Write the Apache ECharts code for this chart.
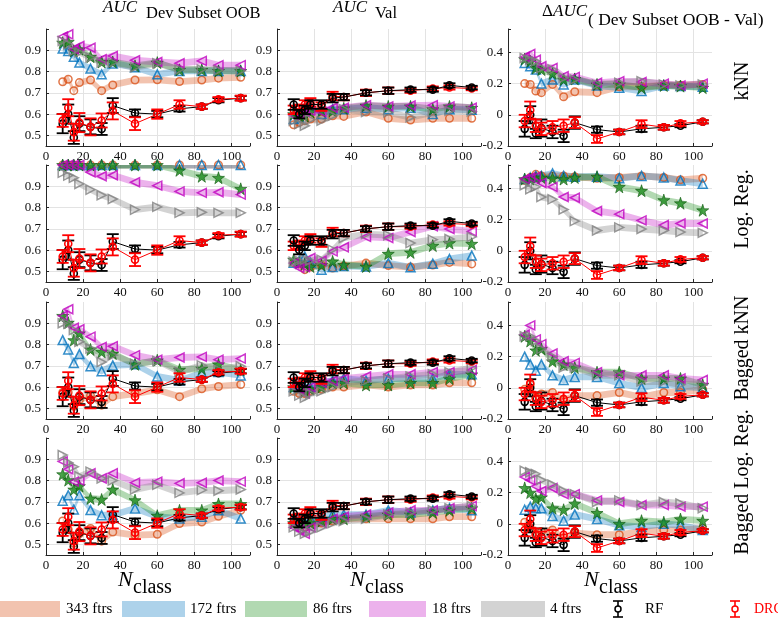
<!DOCTYPE html>
<html><head><meta charset="utf-8">
<script src="https://cdn.jsdelivr.net/npm/echarts@6/dist/echarts.min.js"></script>
<style>html,body{margin:0;padding:0;background:#fff}#c{width:778px;height:619px}</style>
</head><body><div id="c"></div>
<script>
// ---------------- DATA ----------------
const N = [9, 12, 15, 18, 24, 30, 36, 48, 60, 72, 84, 93, 105];
const xTicks = [0, 20, 40, 60, 80, 100];
const featureNames = ['343 ftrs', '172 ftrs', '86 ftrs', '18 ftrs', '4 ftrs'];
const rowNames = ['kNN', 'Log. Reg.', 'Bagged kNN', 'Bagged Log. Reg.'];

// each panel: [343, 172, 86, 18, 4 ftrs]
const knnOOB = [
  [0.752,0.764,0.710,0.748,0.760,0.710,0.737,0.760,0.761,0.753,0.760,0.769,0.773],
  [0.908,0.897,0.870,0.842,0.814,0.787,0.838,0.820,0.787,0.803,0.803,0.803,0.803],
  [0.936,0.940,0.897,0.905,0.870,0.845,0.845,0.827,0.842,0.808,0.808,0.803,0.803],
  [0.964,0.975,0.905,0.920,0.912,0.858,0.873,0.853,0.845,0.839,0.850,0.830,0.830],
  [0.944,0.928,0.897,0.890,0.866,0.842,0.842,0.820,0.839,0.810,0.810,0.806,0.803]];
const knnVal = [
  [0.550,0.561,0.569,0.577,0.577,0.592,0.589,0.610,0.580,0.572,0.580,0.580,0.580],
  [0.577,0.585,0.630,0.640,0.600,0.623,0.623,0.630,0.623,0.630,0.600,0.623,0.620],
  [0.600,0.590,0.590,0.610,0.615,0.615,0.627,0.640,0.636,0.636,0.623,0.636,0.630],
  [0.595,0.600,0.610,0.615,0.610,0.630,0.630,0.642,0.636,0.640,0.642,0.636,0.630],
  [0.569,0.553,0.545,0.574,0.569,0.592,0.623,0.610,0.608,0.585,0.608,0.615,0.612]];
const knnDelta = [
  [0.200,0.195,0.152,0.142,0.195,0.116,0.148,0.142,0.180,0.180,0.190,0.190,0.195],
  [0.332,0.311,0.290,0.200,0.226,0.195,0.226,0.188,0.174,0.152,0.188,0.184,0.180],
  [0.357,0.343,0.300,0.290,0.265,0.226,0.230,0.195,0.195,0.174,0.188,0.184,0.174],
  [0.370,0.390,0.353,0.311,0.300,0.248,0.243,0.205,0.216,0.210,0.200,0.188,0.200],
  [0.364,0.353,0.343,0.300,0.290,0.237,0.226,0.195,0.205,0.216,0.195,0.188,0.195]];
const lrOOB = [
  [1,1,1,1,1,1,1,1,1,1,1,1,1],
  [1,1,1,1,1,1,1,1,1,1,1,1,1],
  [1,1,1,1,1,1,1,1,1,0.975,0.947,0.940,0.888],
  [1,1,1,1,0.966,0.947,0.952,0.919,0.903,0.876,0.869,0.872,0.861],
  [0.963,0.950,0.940,0.911,0.884,0.858,0.840,0.790,0.803,0.775,0.778,0.775,0.775]];
const lrVal = [
  [0.540,0.535,0.508,0.520,0.530,0.516,0.525,0.539,0.527,0.520,0.530,0.542,0.535],
  [0.540,0.550,0.570,0.540,0.508,0.520,0.525,0.523,0.539,0.519,0.536,0.558,0.574],
  [0.555,0.540,0.535,0.523,0.530,0.547,0.531,0.523,0.583,0.589,0.621,0.633,0.630],
  [0.539,0.516,0.520,0.563,0.550,0.594,0.613,0.662,0.657,0.685,0.712,0.699,0.688],
  [0.545,0.550,0.555,0.550,0.555,0.602,0.657,0.675,0.670,0.633,0.649,0.652,0.662]];
const lrDelta = [
  [0.450,0.470,0.490,0.480,0.480,0.480,0.475,0.465,0.470,0.480,0.470,0.455,0.465],
  [0.460,0.470,0.480,0.480,0.496,0.480,0.475,0.475,0.465,0.480,0.470,0.450,0.430],
  [0.460,0.460,0.465,0.470,0.465,0.460,0.470,0.475,0.410,0.385,0.325,0.305,0.260],
  [0.460,0.470,0.475,0.435,0.410,0.345,0.340,0.255,0.235,0.195,0.165,0.175,0.175],
  [0.420,0.395,0.410,0.345,0.330,0.265,0.190,0.130,0.150,0.140,0.130,0.120,0.115]];
const bknnOOB = [
  [0.575,0.575,0.510,0.540,0.560,0.515,0.555,0.570,0.587,0.555,0.592,0.603,0.612],
  [0.821,0.777,0.713,0.755,0.698,0.675,0.702,0.707,0.650,0.631,0.666,0.671,0.655],
  [0.935,0.903,0.821,0.853,0.777,0.766,0.758,0.707,0.726,0.682,0.687,0.707,0.680],
  [0.935,0.966,0.879,0.872,0.837,0.789,0.792,0.750,0.729,0.739,0.742,0.729,0.734],
  [0.900,0.897,0.868,0.813,0.781,0.718,0.750,0.710,0.723,0.671,0.702,0.682,0.698]];
const bknnVal = [
  [0.580,0.570,0.570,0.580,0.590,0.600,0.600,0.610,0.600,0.610,0.610,0.620,0.620],
  [0.600,0.620,0.600,0.600,0.620,0.630,0.640,0.630,0.640,0.640,0.640,0.660,0.660],
  [0.600,0.600,0.580,0.590,0.600,0.620,0.620,0.610,0.610,0.620,0.620,0.640,0.660],
  [0.600,0.590,0.570,0.600,0.620,0.630,0.640,0.650,0.660,0.660,0.670,0.670,0.680],
  [0.580,0.560,0.550,0.570,0.580,0.600,0.620,0.630,0.640,0.650,0.660,0.670,0.690]];
const bknnDelta = [
  [-0.010,0.020,-0.060,-0.040,-0.030,-0.080,-0.050,-0.050,-0.030,-0.060,-0.030,-0.030,-0.010],
  [0.200,0.150,0.110,0.150,0.080,0.050,0.070,0.070,0.030,0.000,0.030,0.010,0.000],
  [0.330,0.300,0.240,0.250,0.170,0.150,0.130,0.100,0.100,0.060,0.060,0.060,0.020],
  [0.340,0.400,0.310,0.280,0.220,0.170,0.160,0.100,0.080,0.080,0.080,0.060,0.050],
  [0.330,0.330,0.300,0.250,0.200,0.130,0.130,0.080,0.080,0.040,0.040,0.020,0.020]];
const blrOOB = [
  [0.610,0.570,0.505,0.550,0.575,0.515,0.558,0.543,0.547,0.598,0.605,0.632,0.660],
  [0.705,0.731,0.664,0.731,0.661,0.637,0.637,0.669,0.630,0.621,0.630,0.660,0.621],
  [0.830,0.802,0.758,0.774,0.716,0.711,0.758,0.708,0.635,0.660,0.660,0.690,0.690],
  [0.890,0.853,0.795,0.800,0.834,0.810,0.834,0.790,0.795,0.787,0.790,0.800,0.795],
  [0.920,0.884,0.865,0.820,0.842,0.810,0.800,0.758,0.780,0.742,0.755,0.752,0.758]];
const blrVal = [
  [0.600,0.600,0.580,0.600,0.600,0.610,0.620,0.620,0.620,0.620,0.620,0.630,0.630],
  [0.620,0.620,0.600,0.620,0.630,0.640,0.640,0.640,0.660,0.650,0.660,0.670,0.660],
  [0.600,0.600,0.600,0.600,0.610,0.620,0.620,0.630,0.640,0.640,0.650,0.660,0.670],
  [0.580,0.570,0.550,0.580,0.600,0.620,0.630,0.640,0.650,0.660,0.660,0.670,0.680],
  [0.580,0.560,0.550,0.560,0.580,0.600,0.610,0.620,0.640,0.650,0.660,0.670,0.680]];
const blrDelta = [
  [0.010,-0.030,-0.070,-0.050,-0.040,-0.090,-0.060,-0.070,-0.070,-0.050,-0.040,-0.040,-0.030],
  [0.090,0.110,0.100,0.100,0.050,0.020,0.060,0.030,-0.010,-0.020,0.000,-0.010,-0.040],
  [0.230,0.200,0.160,0.170,0.100,0.090,0.130,0.070,0.000,0.020,0.010,0.030,0.020],
  [0.300,0.280,0.240,0.210,0.230,0.190,0.190,0.150,0.140,0.120,0.120,0.110,0.110],
  [0.340,0.330,0.320,0.280,0.250,0.210,0.190,0.140,0.150,0.120,0.140,0.130,0.100]];

// RF / DRC baselines (same in every row) with error half-widths
const rfOOB     = [0.555,0.600,0.490,0.555,0.540,0.530,0.640,0.605,0.600,0.625,0.635,0.665,0.675];
const rfOOBErr  = [0.045,0.045,0.030,0.035,0.035,0.028,0.035,0.017,0.015,0.013,0.010,0.010,0.010];
const drcOOB    = [0.570,0.630,0.515,0.560,0.540,0.570,0.615,0.555,0.600,0.645,0.635,0.670,0.675];
const drcOOBErr = [0.030,0.040,0.040,0.045,0.040,0.033,0.040,0.030,0.022,0.020,0.010,0.010,0.012];
const rfVal     = [0.645,0.600,0.620,0.645,0.645,0.675,0.680,0.700,0.710,0.715,0.715,0.735,0.725];
const rfValErr  = [0.025,0.020,0.020,0.020,0.020,0.020,0.015,0.012,0.015,0.010,0.010,0.010,0.008];
const drcVal    = [0.620,0.625,0.645,0.655,0.635,0.685,0.680,0.700,0.710,0.710,0.720,0.725,0.720];
const drcValErr = [0.020,0.020,0.020,0.020,0.020,0.020,0.015,0.015,0.015,0.010,0.010,0.010,0.008];
const rfDelta     = [-0.090,0.000,-0.120,-0.085,-0.110,-0.135,-0.050,-0.095,-0.110,-0.090,-0.080,-0.070,-0.045];
const rfDeltaErr  = [0.050,0.055,0.030,0.055,0.040,0.040,0.040,0.020,0.015,0.020,0.015,0.010,0.010];
const drcDelta    = [-0.040,0.030,-0.070,-0.090,-0.080,-0.070,-0.050,-0.155,-0.110,-0.060,-0.080,-0.055,-0.045];
const drcDeltaErr = [0.040,0.055,0.040,0.040,0.040,0.040,0.035,0.025,0.015,0.025,0.015,0.015,0.010];

// ---------------- STYLE / LAYOUT ----------------
const FONT = 'Liberation Serif';
const AX = '#262626';
const bandColors = ['rgba(217,83,25,0.35)','rgba(0,114,189,0.32)','rgba(0,128,0,0.30)','rgba(191,0,191,0.30)','rgba(128,128,128,0.35)'];
const markColors = ['#D95319','#0072BD','#1E7D1E','#BF00BF','#7F7F7F'];
const STAR = 'path://M50,0 L61,35 L98,35 L68,57 L79,91 L50,70 L21,91 L32,57 L2,35 L39,35 Z';
const markSymbols = ['circle','triangle',STAR,'triangle','triangle'];
const markRot = [0,0,0,90,-90];
const colLeft = [46, 277, 508];
const rowTop = [29, 165, 302, 438];
const PW = 204, PH = 117;
const bandHalf = [0.016, 0.016, 0.022];

const panels = [
  [knnOOB, knnVal, knnDelta],
  [lrOOB, lrVal, lrDelta],
  [bknnOOB, bknnVal, bknnDelta],
  [blrOOB, blrVal, blrDelta]];
const baseRF = [[rfOOB, rfOOBErr], [rfVal, rfValErr], [rfDelta, rfDeltaErr]];
const baseDRC = [[drcOOB, drcOOBErr], [drcVal, drcValErr], [drcDelta, drcDeltaErr]];

const grids = [], xAxes = [], yAxes = [], series = [];

function bandRender(vals, half, color) {
  return function (params, api) {
    if (params.dataIndex !== 0) return;
    const pts = [];
    for (let k = 0; k < N.length; k++) pts.push(api.coord([N[k], vals[k] + half]));
    for (let k = N.length - 1; k >= 0; k--) pts.push(api.coord([N[k], vals[k] - half]));
    return { type: 'polygon', shape: { points: pts }, style: { fill: color } };
  };
}
function errRender(color) {
  return function (params, api) {
    const x = api.value(0), y = api.value(1), e = api.value(2);
    const t = api.coord([x, y + e]), b = api.coord([x, y - e]);
    const hw = 6, st = { stroke: color, lineWidth: 1.8 };
    return { type: 'group', children: [
      { type: 'line', shape: { x1: t[0], y1: t[1], x2: b[0], y2: b[1] }, style: st },
      { type: 'line', shape: { x1: t[0] - hw, y1: t[1], x2: t[0] + hw, y2: t[1] }, style: st },
      { type: 'line', shape: { x1: b[0] - hw, y1: b[1], x2: b[0] + hw, y2: b[1] }, style: st }
    ]};
  };
}

for (let r = 0; r < 4; r++) {
  for (let c = 0; c < 3; c++) {
    const gi = r * 3 + c;
    grids.push({ left: colLeft[c], top: rowTop[r], width: PW, height: PH, containLabel: false });
    xAxes.push({
      gridIndex: gi, type: 'value', min: 0, max: 110, interval: 20,
      axisLine: { show: true, onZero: false, lineStyle: { color: AX, width: 1 } },
      axisTick: { show: true, inside: true, length: 3, lineStyle: { color: AX } },
      axisLabel: { margin: 4, fontFamily: FONT, fontSize: 13, color: '#111',
        formatter: v => (xTicks.indexOf(Math.round(v)) >= 0 && Math.abs(v - Math.round(v)) < 1e-6) ? String(Math.round(v)) : '' },
      splitLine: { show: true, showMinLine: false, showMaxLine: false, lineStyle: { color: '#e3e3e3', width: 1 } }
    });
    if (c < 2) {
      yAxes.push({
        gridIndex: gi, type: 'value', min: 0.45, max: 1.0, splitNumber: 5,
        axisLine: { show: true, onZero: false, lineStyle: { color: AX, width: 1 } },
        axisTick: { show: true, inside: true, length: 3, lineStyle: { color: AX } },
        axisLabel: { margin: 5, fontFamily: FONT, fontSize: 13, color: '#111',
          formatter: v => (v < 0.47 || v > 0.97) ? '' : v.toFixed(1) },
        splitLine: { show: true, showMinLine: false, showMaxLine: false, lineStyle: { color: '#e3e3e3', width: 1 } }
      });
    } else {
      yAxes.push({
        gridIndex: gi, type: 'value', min: -0.2, max: 0.55, interval: 0.2,
        axisLine: { show: true, onZero: false, lineStyle: { color: AX, width: 1 } },
        axisTick: { show: true, inside: true, length: 3, lineStyle: { color: AX } },
        axisLabel: { margin: 5, fontFamily: FONT, fontSize: 13, color: '#111',
          formatter: v => (v > 0.5) ? '' : (Math.abs(v) < 1e-9 ? '0' : v.toFixed(1)) },
        splitLine: { show: true, showMinLine: false, showMaxLine: false, lineStyle: { color: '#e3e3e3', width: 1 } }
      });
    }
    const pdata = panels[r][c];
    // bands
    for (let f = 0; f < 5; f++) {
      series.push({ type: 'custom', xAxisIndex: gi, yAxisIndex: gi, clip: true, silent: true, z: 1,
        renderItem: bandRender(pdata[f], bandHalf[c], bandColors[f]),
        data: [[N[0], pdata[f][0]]], encode: { x: 0, y: 1 } });
    }
    // markers
    for (let f = 0; f < 5; f++) {
      const isStar = f === 2;
      series.push({ type: 'scatter', xAxisIndex: gi, yAxisIndex: gi, clip: false, z: 3 + f * 0.01,
        symbol: markSymbols[f], symbolRotate: markRot[f], symbolSize: isStar ? 12 : (f === 0 ? 7.5 : 9),
        itemStyle: isStar ? { color: '#1E8B1E', borderColor: '#0E5A0E', borderWidth: 0.8 }
                          : { color: 'rgba(255,255,255,0)', borderColor: markColors[f], borderWidth: 1.5 },
        data: N.map((n, i) => [n, pdata[f][i]]) });
    }
    // RF and DRC
    const order = c === 1 ? [['drc', baseDRC, '#FF0000'], ['rf', baseRF, '#000000']]
                          : [['rf', baseRF, '#000000'], ['drc', baseDRC, '#FF0000']];
    order.forEach((o, oi) => {
      const [vals, errs] = o[1][c];
      const col = o[2];
      series.push({ type: 'line', xAxisIndex: gi, yAxisIndex: gi, z: 5 + oi, clip: false,
        symbol: 'circle', symbolSize: 7, showAllSymbol: true,
        lineStyle: { color: col, width: 1 },
        itemStyle: { color: 'rgba(255,255,255,0)', borderColor: col, borderWidth: 1.6 },
        data: N.map((n, i) => [n, vals[i]]) });
      series.push({ type: 'custom', xAxisIndex: gi, yAxisIndex: gi, z: 5 + oi, silent: true,
        renderItem: errRender(col), encode: { x: 0, y: 1 },
        data: N.map((n, i) => [n, vals[i], errs[i]]) });
    });
  }
}

// ---------------- TEXT / LEGEND ----------------
const g = [];
function txt(x, y, s, size, opts) {
  opts = opts || {};
  g.push({ type: 'text', x: x, y: y, silent: true,
    style: { text: s, font: (opts.italic ? 'italic ' : '') + size + 'px "' + FONT + '"',
      fill: opts.fill || '#000', align: opts.align || 'left', verticalAlign: 'middle' } });
}
// column titles
txt(103, 8, 'AUC', 17, { italic: true });
txt(146, 14, 'Dev Subset OOB', 16.5);
txt(333, 8, 'AUC', 17, { italic: true });
txt(375, 14, 'Val', 16.5);
txt(542, 12, '\u0394', 17);
txt(553, 12, 'AUC', 17, { italic: true });
txt(588, 20, '( Dev Subset OOB - Val)', 17.5);
// x-axis titles
[118, 350, 584].forEach(x => {
  txt(x, 580, 'N', 22, { italic: true });
  txt(x + 15, 588, 'class', 20);
});
// row labels (rotated, reading bottom to top)
const rowCenters = [81, 209, 348, 482];
rowNames.forEach((s, i) => {
  g.push({ type: 'text', x: 743, y: rowCenters[i], rotation: Math.PI / 2, silent: true,
    style: { text: s, font: '20px "' + FONT + '"', fill: '#000', align: 'center', verticalAlign: 'middle' } });
});
// legend
const legBoxes = [[0, 60], [122, 63], [245, 62], [369, 57], [481, 64]];
const legText = [66, 190, 313, 432, 550];
legBoxes.forEach((b, i) => {
  g.push({ type: 'rect', silent: true, shape: { x: b[0], y: 601, width: b[1], height: 16 }, style: { fill: bandColors[i] } });
  txt(legText[i], 609, featureNames[i], 15);
});
function legErr(x, col) {
  const st = { stroke: col, lineWidth: 1.6 };
  g.push({ type: 'line', silent: true, shape: { x1: x, y1: 601, x2: x, y2: 617 }, style: st });
  g.push({ type: 'line', silent: true, shape: { x1: x - 5, y1: 601, x2: x + 5, y2: 601 }, style: st });
  g.push({ type: 'line', silent: true, shape: { x1: x - 5, y1: 617, x2: x + 5, y2: 617 }, style: st });
  g.push({ type: 'circle', silent: true, shape: { cx: x, cy: 609, r: 3 }, style: { fill: '#fff', stroke: col, lineWidth: 1.5 } });
}
legErr(618, '#000');
txt(645, 609, 'RF', 15);
legErr(735, '#FF0000');
txt(754, 609, 'DRC', 14, { fill: '#FF0000' });

const chart = echarts.init(document.getElementById('c'), null, { renderer: 'canvas' });
chart.setOption({
  animation: false,
  backgroundColor: '#fff',
  grid: grids, xAxis: xAxes, yAxis: yAxes, series: series,
  graphic: { elements: g }
});
</script>
</body></html>
